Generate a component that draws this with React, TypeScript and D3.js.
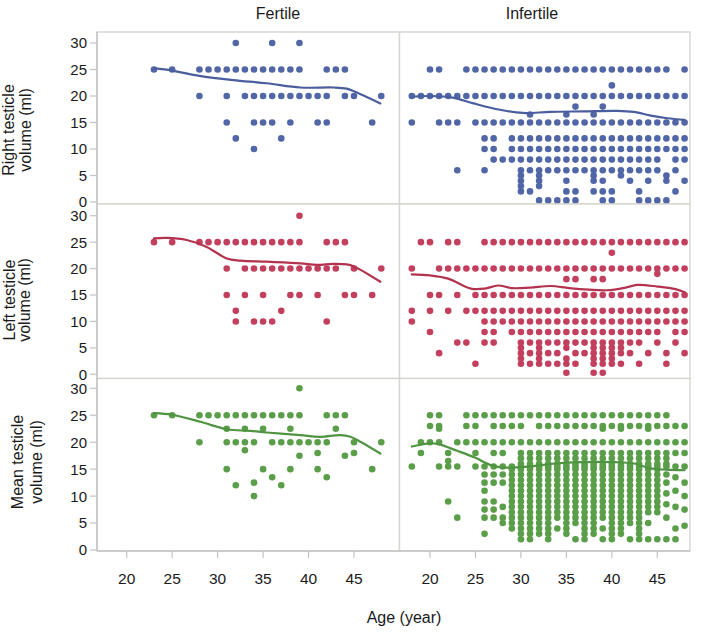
import * as d3 from "d3";

type Row = [number, number[]];
type Pt = [number, number];

const groups = ["Fertile", "Infertile"];
const measures = [
  ["Right testicle", "volume (ml)"],
  ["Left testicle", "volume (ml)"],
  ["Mean testicle", "volume (ml)"],
];
const ageTicks = [20, 25, 30, 35, 40, 45];
const volTicks = [0, 5, 10, 15, 20, 25, 30];
const dotColors = ["#5166a6", "#c2405e", "#5a9e49"];
const lineColors = ["#4a5d9e", "#b3334f", "#4f9440"];

// volume -> list of ages
const rightFertile: Row[] = [
  [30, [32, 36, 39]],
  [25, [23, 25, 28, 29, 30, 31, 32, 33, 34, 35, 36, 37, 38, 39, 42, 43, 44]],
  [20, [28, 31, 33, 34, 35, 36, 37, 38, 39, 40, 41, 42, 44, 45, 48]],
  [15, [31, 34, 35, 36, 38, 41, 42, 47]],
  [12, [32, 37]],
  [10, [34]],
];

const rightInfertile: Row[] = [
  [25, [20, 21, 24, 25, 26, 27, 28, 29, 30, 31, 32, 33, 34, 35, 36, 37, 38, 39, 40, 41, 42, 43, 44, 45, 46, 48]],
  [22, [40]],
  [20, [18, 19, 20, 21, 22, 23, 24, 25, 26, 27, 28, 29, 30, 31, 32, 33, 34, 35, 36, 37, 38, 39, 40, 41, 42, 43, 44, 45, 46, 47, 48]],
  [18, [36, 39]],
  [16.5, [31, 35, 38]],
  [15, [18, 21, 22, 23, 25, 26, 27, 28, 29, 30, 31, 32, 33, 34, 35, 36, 37, 38, 39, 40, 41, 42, 43, 44, 45, 46, 47, 48]],
  [12, [26, 27, 29, 30, 31, 32, 33, 34, 35, 36, 37, 38, 39, 40, 41, 42, 43, 44, 45, 46, 47, 48]],
  [10, [26, 27, 29, 30, 31, 32, 33, 34, 35, 36, 37, 38, 39, 40, 41, 42, 43, 44, 45, 46, 47, 48]],
  [8, [27, 28, 29, 30, 31, 32, 33, 34, 35, 36, 37, 38, 39, 40, 41, 42, 43, 44, 45, 47, 48]],
  [6, [23, 26, 30, 31, 32, 33, 34, 35, 36, 37, 38, 39, 40, 41, 42, 43, 44, 45, 47]],
  [5, [30, 32, 38, 41, 46]],
  [4, [30, 32, 35, 38, 39, 42, 44, 46, 48]],
  [3, [30, 32]],
  [2, [30, 31, 35, 36, 38, 39, 40, 43, 47]],
  [0.3, [32, 33, 34, 35, 36, 39, 40, 43, 44, 45, 46]],
];

const leftFertile: Row[] = [
  [30, [39]],
  [25, [23, 25, 28, 29, 30, 31, 32, 33, 34, 35, 36, 37, 38, 39, 42, 43, 44]],
  [20, [31, 33, 34, 35, 36, 37, 38, 39, 40, 41, 42, 43, 45, 48]],
  [15, [31, 33, 35, 38, 39, 41, 44, 45, 47]],
  [12, [32, 37]],
  [10, [32, 34, 35, 36, 42]],
];

const leftInfertile: Row[] = [
  [25, [19, 20, 22, 23, 26, 27, 28, 29, 30, 31, 32, 33, 34, 35, 36, 37, 38, 39, 40, 41, 42, 43, 44, 45, 46, 47, 48]],
  [23, [40]],
  [20, [18, 21, 22, 23, 24, 25, 26, 27, 28, 29, 30, 31, 32, 33, 34, 35, 36, 37, 38, 39, 40, 41, 42, 43, 44, 45, 46, 47, 48]],
  [19, [45]],
  [18, [35, 36, 38, 39]],
  [15, [20, 21, 23, 25, 26, 27, 28, 29, 30, 31, 32, 33, 34, 35, 36, 37, 38, 39, 40, 41, 42, 43, 44, 45, 46, 47, 48]],
  [12, [18, 20, 22, 24, 25, 26, 27, 28, 29, 30, 31, 32, 33, 34, 35, 36, 37, 38, 39, 40, 41, 42, 43, 44, 45, 46, 47, 48]],
  [10, [18, 26, 27, 28, 29, 30, 31, 32, 33, 34, 35, 36, 37, 38, 39, 40, 41, 42, 43, 44, 45, 46, 47, 48]],
  [8, [20, 26, 27, 29, 30, 31, 32, 33, 34, 35, 36, 37, 38, 39, 40, 41, 42, 43, 44, 45, 47, 48]],
  [6, [23, 24, 26, 27, 30, 31, 32, 33, 34, 35, 36, 37, 38, 39, 40, 41, 42, 43, 45, 47]],
  [5, [30, 32, 35, 38, 39, 40, 41]],
  [4, [21, 30, 31, 32, 33, 34, 36, 37, 38, 39, 40, 41, 42, 44, 46, 48]],
  [3, [30, 32, 35, 38, 39, 40]],
  [2, [25, 30, 31, 32, 33, 34, 35, 36, 38, 39, 40, 41, 43, 46]],
  [0.3, [35, 38, 39]],
];

const meanFertile: Row[] = [
  [30, [39]],
  [25, [23, 25, 28, 29, 30, 31, 32, 33, 34, 35, 36, 37, 38, 39, 42, 43, 44]],
  [22.5, [31, 33, 35, 38, 43]],
  [20, [28, 31, 32, 33, 34, 36, 37, 38, 39, 40, 41, 42, 45, 48]],
  [18.5, [33]],
  [18, [41, 45]],
  [17.5, [39, 44]],
  [15, [31, 35, 38, 41, 47]],
  [13.5, [36, 42]],
  [12.5, [34]],
  [12, [32, 37]],
  [10, [34]],
];

const meanInfertileRows: Row[] = [
  [25, [20, 21, 24, 25, 26, 27, 28, 29, 30, 31, 32, 33, 34, 35, 36, 37, 38, 39, 40, 41, 42, 43, 44, 45, 46]],
  [23, [20, 21, 24, 25, 27, 28, 29, 30, 32, 33, 34, 35, 36, 37, 38, 39, 40, 41, 42, 43, 44, 45, 46, 47, 48]],
  [22.5, [21, 39, 41, 44]],
  [20, [19, 20, 21, 23, 24, 25, 26, 27, 28, 29, 30, 31, 32, 33, 34, 35, 36, 37, 38, 39, 40, 41, 42, 43, 44, 45, 46, 47, 48]],
  [18, [19, 22, 25, 27, 28, 30, 31, 32, 33, 34, 35, 36, 37, 38, 39, 40, 41, 42, 43, 44, 45, 46, 47, 48]],
  [16.5, [22]],
  [15.5, [18, 21, 22, 23, 25, 26, 27, 28, 29, 30, 31, 32, 33, 34, 35, 36, 37, 38, 39, 40, 41, 42, 43, 44, 45, 46, 47, 48]],
];

// age -> list of volumes (the dense lower columns)
const meanInfertileCols: Row[] = [
  [22, [9]],
  [23, [6]],
  [26, [14, 12.5, 11, 9, 7.5, 6, 3]],
  [27, [14, 12.5, 9, 7.5, 6]],
  [28, [14, 12.5, 8, 6, 5]],
  [29, [15, 14, 13, 12, 11, 10, 9, 8, 7, 6, 5, 4]],
  [30, [17, 16, 15, 14, 13, 12, 11, 10, 9, 8, 7, 6, 5, 4, 3, 2]],
  [31, [17, 16, 15, 14, 13, 12, 11, 10, 9, 8, 7, 6, 5, 4, 3, 2]],
  [32, [17, 16, 15, 14, 13, 12, 11, 10, 9, 8, 7, 6, 5, 4, 3]],
  [33, [17, 16, 15, 14, 13, 12, 11, 10, 9, 8, 7, 6, 5, 4, 3, 2]],
  [34, [17, 16, 15, 14, 13, 12, 11, 10, 9, 8, 7, 6, 4]],
  [35, [17, 16, 15, 14, 13, 12, 11, 10, 9, 8, 7, 6, 5, 4, 3]],
  [36, [17, 16, 15, 14, 13, 12, 11, 10, 9, 8, 7, 6, 5, 2]],
  [37, [17, 16, 15, 14, 13, 12, 11, 10, 9, 8, 7, 6, 5, 4, 3, 2]],
  [38, [17, 16, 15, 14, 13, 12, 11, 10, 9, 8, 7, 6, 5, 4, 3]],
  [39, [17, 16, 15, 14, 13, 12, 11, 10, 9, 8, 7, 6, 4, 2]],
  [40, [17, 16, 15, 14, 13, 12, 11, 10, 9, 8, 7, 6, 5, 4, 3, 2]],
  [41, [17, 16, 15, 14, 13, 12, 11, 10, 9, 8, 7, 6, 5, 4, 3]],
  [42, [17, 16, 15, 14, 13, 12, 11, 10, 9, 8, 7, 6, 5, 2]],
  [43, [17, 16, 15, 14, 13, 12, 11, 10, 9, 8, 7, 6, 5, 4, 3, 2]],
  [44, [17, 16, 15, 14, 13, 12, 11, 10, 9, 8, 7, 5, 2]],
  [45, [17, 16, 15, 14, 13, 12, 11, 10, 9, 8, 7, 2]],
  [46, [17, 16, 14, 12.5, 10.5, 8.5, 6, 2]],
  [47, [13.5, 11, 8, 4, 2]],
  [48, [12.5, 10, 7.5, 4.5]],
];

// smoothed fit lines, [age, volume]
const rightFertileFit: Pt[] = [[23, 25.2], [25, 24.8], [28, 23.8], [31.7, 23.0], [35.4, 22.4], [39.1, 21.6], [42.7, 21.6], [44.2, 21.4], [45, 20.9], [47.9, 18.6]];
const rightInfertileFit: Pt[] = [[18, 19.9], [20, 20.0], [22.5, 19.7], [24.8, 18.6], [27.7, 17.4], [30.2, 16.8], [33.2, 17.0], [36.9, 17.1], [40.6, 17.2], [42.4, 17.0], [44.3, 16.3], [46.1, 15.8], [48, 15.5]];
const leftFertileFit: Pt[] = [[23, 25.7], [24.4, 25.8], [26.6, 25.4], [28.8, 24.1], [31, 21.9], [32.5, 21.5], [35.4, 21.3], [39.1, 21.0], [40.9, 20.7], [42.7, 20.9], [44.2, 20.8], [45, 20.4], [47.9, 17.5]];
const leftInfertileFit: Pt[] = [[18, 18.9], [20, 18.7], [22, 18.1], [24.5, 16.2], [26, 16.2], [27.5, 16.8], [29, 16.3], [31, 16.4], [33.3, 16.7], [35.3, 16.3], [37.5, 16.0], [39.5, 15.9], [41.5, 16.4], [42.8, 16.9], [45, 16.6], [47, 16.1], [48, 15.5]];
const meanFertileFit: Pt[] = [[23, 25.4], [25, 25.1], [28.1, 23.8], [31, 22.4], [33.6, 22.1], [35.4, 21.8], [39.1, 21.3], [41.3, 21.0], [43.5, 21.3], [44.6, 21.0], [45.7, 20.1], [47.9, 17.9]];
const meanInfertileFit: Pt[] = [[18, 19.2], [20, 19.8], [21, 19.6], [23, 18.4], [25, 17.1], [26.6, 15.8], [28, 15.3], [31, 15.5], [33.5, 16.0], [36.7, 16.3], [40.4, 16.3], [42.6, 16.0], [44.1, 15.2], [46, 14.9], [48, 14.8]];

const byVol = (rows: Row[]): Pt[] => rows.flatMap(([v, ages]) => ages.map((a) => [a, v] as Pt));
const byAge = (cols: Row[]): Pt[] => cols.flatMap(([a, vols]) => vols.map((v) => [a, v] as Pt));

// [row][col]
const panelPoints: Pt[][][] = [
  [byVol(rightFertile), byVol(rightInfertile)],
  [byVol(leftFertile), byVol(leftInfertile)],
  [byVol(meanFertile), [...byVol(meanInfertileRows), ...byAge(meanInfertileCols)]],
];
const panelFits: Pt[][][] = [
  [rightFertileFit, rightInfertileFit],
  [leftFertileFit, leftInfertileFit],
  [meanFertileFit, meanInfertileFit],
];

const W = 704;
const H = 634;
const FONT = "Liberation Sans, Arial, Helvetica, sans-serif";
const colEdges = [[97, 399.5], [399.5, 690]];
const colTick = [[126.7, 354], [430, 657.3]]; // pixel of age 20 and 45
const rowEdges = [[32, 204], [204, 378.5], [378.5, 551]];
const rowTick = [[202, 43], [374.3, 215.7], [550, 388.3]]; // pixel of vol 0 and 30
const labelPos = [
  { cy: 130, x: [13.5, 31] },
  { cy: 300, x: [15, 30] },
  { cy: 462, x: [23, 42] },
];
const titleX = [278, 532];

export default function App() {
  const xs = colTick.map((r) => d3.scaleLinear().domain([20, 45]).range(r));
  const ys = rowTick.map((r) => d3.scaleLinear().domain([0, 30]).range(r));
  const line = (x: d3.ScaleLinear<number, number>, y: d3.ScaleLinear<number, number>) =>
    d3.line<Pt>().x((d) => x(d[0])).y((d) => y(d[1])).curve(d3.curveCatmullRom.alpha(0.5));
  const axisColor = "#c4c4c4";
  const frameColor = "#d8d4cf";
  const xAxisY = rowEdges[2][1];

  return (
    <div style={{ position: "absolute", left: 0, top: 0 }}>
      <svg width={W} height={H} viewBox={`0 0 ${W} ${H}`} style={{ display: "block", background: "#fff" }} fontFamily={FONT}>
        {groups.map((g, c) => (
          <text key={g} x={titleX[c]} y={19} textAnchor="middle" fontSize={16} fill="#1a1a1a">{g}</text>
        ))}

        {rowEdges.map((re, r) =>
          colEdges.map((ce, c) => (
            <g key={`p${r}${c}`}>
              <rect x={ce[0]} y={re[0]} width={ce[1] - ce[0]} height={re[1] - re[0]} fill="#fff" stroke={frameColor} strokeWidth={1.4} />
              {panelPoints[r][c].map((p, i) => (
                <circle key={i} cx={xs[c](p[0])} cy={ys[r](p[1])} r={3.3} fill={dotColors[r]} />
              ))}
              <path d={line(xs[c], ys[r])(panelFits[r][c]) || ""} fill="none" stroke={lineColors[r]} strokeWidth={2.2} strokeLinejoin="round" strokeLinecap="round" />
            </g>
          ))
        )}

        {/* y axis */}
        <line x1={colEdges[0][0]} x2={colEdges[0][0]} y1={rowEdges[0][0]} y2={xAxisY} stroke={axisColor} strokeWidth={1.4} />
        {ys.map((y, r) => (
          <g key={`ya${r}`}>
            {volTicks.map((t) => (
              <g key={t}>
                <line x1={colEdges[0][0] - 7} x2={colEdges[0][0]} y1={y(t)} y2={y(t)} stroke={axisColor} strokeWidth={1.2} />
                <text x={87} y={y(t)} dy="0.36em" textAnchor="end" fontSize={15} fill="#1a1a1a">{t}</text>
              </g>
            ))}
            {measures[r].map((s, k) => (
              <text key={k} transform={`translate(${labelPos[r].x[k]},${labelPos[r].cy}) rotate(-90)`} textAnchor="middle" fontSize={16} fill="#1a1a1a">{s}</text>
            ))}
          </g>
        ))}

        {/* x axis */}
        <line x1={colEdges[0][0]} x2={colEdges[1][1]} y1={xAxisY} y2={xAxisY} stroke={axisColor} strokeWidth={1.4} />
        {xs.map((x, c) => (
          <g key={`xa${c}`}>
            {ageTicks.map((t) => (
              <g key={t}>
                <line x1={x(t)} x2={x(t)} y1={xAxisY} y2={xAxisY + 7} stroke={axisColor} strokeWidth={1.2} />
                <text x={x(t)} y={584} textAnchor="middle" fontSize={15.5} fill="#1a1a1a">{t}</text>
              </g>
            ))}
          </g>
        ))}
        <text x={404} y={623} textAnchor="middle" fontSize={16} fill="#1a1a1a">Age (year)</text>
      </svg>
    </div>
  );
}
